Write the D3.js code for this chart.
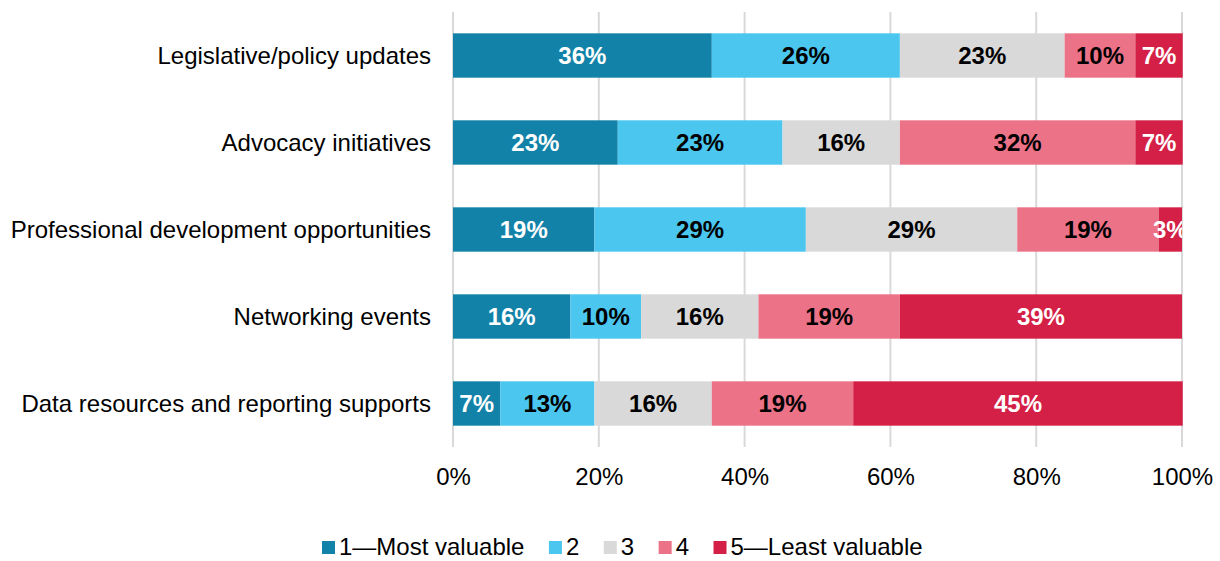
<!DOCTYPE html>
<html>
<head>
<meta charset="utf-8">
<script src="https://cdn.jsdelivr.net/npm/d3@7"></script>
<style>
  body { margin: 0; background: #fff; }
  text { font-family: "Liberation Sans", Arial, sans-serif; }
</style>
</head>
<body>
<script>
const categories = [
  "Legislative/policy updates",
  "Advocacy initiatives",
  "Professional development opportunities",
  "Networking events",
  "Data resources and reporting supports"
];
const seriesNames = ["1\u2014Most valuable", "2", "3", "4", "5\u2014Least valuable"];
const colors = ["#1282a8", "#4ac6ef", "#d9d9d9", "#ec7288", "#d42046"];
const labelColors = ["#fff", "#000", "#000", "#000", "#fff"];
// share of responses (%) per category, one array per rating
const rating1 = [35.5, 22.6, 19.4, 16.1, 6.5];
const rating2 = [25.8, 22.6, 29.0, 9.7, 12.9];
const rating3 = [22.6, 16.1, 29.0, 16.1, 16.1];
const rating4 = [9.7, 32.3, 19.4, 19.4, 19.4];
const rating5 = [6.5, 6.5, 3.2, 38.7, 45.2];
const tickValues = [0, 20, 40, 60, 80, 100];

const series = [rating1, rating2, rating3, rating4, rating5];
const rows = categories.map((c, i) => {
  const r = {cat: c};
  series.forEach((s, k) => r["k" + k] = s[i]);
  return r;
});
const keys = series.map((s, k) => "k" + k);
const stacked = d3.stack().keys(keys)(rows);

const W = 1220, H = 561;
const margin = {top: 12, bottom: 114, left: 453, right: 38};
const width = W - margin.left - margin.right;
const height = H - margin.top - margin.bottom;
const fs = 24;

const svg = d3.select("body").append("svg")
  .attr("width", W).attr("height", H);

const g = svg.append("g")
  .attr("transform", `translate(${margin.left},${margin.top})`);

const x = d3.scaleLinear().domain([0, 100]).range([0, width]);
const y = d3.scaleBand().domain(categories).range([0, height]).paddingInner(0.49).paddingOuter(0.245);

// gridlines
g.selectAll("line.grid").data(tickValues).join("line")
  .attr("class", "grid")
  .attr("x1", d => x(d)).attr("x2", d => x(d))
  .attr("y1", 0).attr("y2", height)
  .attr("stroke", "#d9d9d9").attr("stroke-width", 2);

g.append("clipPath").attr("id", "plotclip")
  .append("rect").attr("x", 0).attr("y", 0).attr("width", width).attr("height", height);

const layer = g.selectAll("g.layer").data(stacked).join("g")
  .attr("class", "layer")
  .attr("fill", (d, i) => colors[i]);

layer.selectAll("rect").data(d => d).join("rect")
  .attr("x", d => x(d[0]))
  .attr("y", d => y(d.data.cat))
  .attr("width", d => x(d[1]) - x(d[0]))
  .attr("height", y.bandwidth());

const labels = g.append("g").attr("clip-path", "url(#plotclip)");
stacked.forEach((s, i) => {
  labels.selectAll("text.l" + i).data(s).join("text")
    .attr("class", "l" + i)
    .attr("x", d => (x(d[0]) + x(d[1])) / 2)
    .attr("y", d => y(d.data.cat) + y.bandwidth() / 2)
    .attr("dy", "0.36em")
    .attr("text-anchor", "middle")
    .attr("font-size", fs)
    .attr("font-weight", "bold")
    .attr("fill", labelColors[i])
    .text(d => Math.round(d[1] - d[0]) + "%");
});

// category labels
g.selectAll("text.cat").data(categories).join("text")
  .attr("class", "cat")
  .attr("x", -22)
  .attr("y", d => y(d) + y.bandwidth() / 2)
  .attr("dy", "0.36em")
  .attr("text-anchor", "end")
  .attr("font-size", fs)
  .attr("fill", "#000")
  .text(d => d);

// x axis
const xAxis = g.append("g")
  .attr("transform", `translate(0,${height})`)
  .call(d3.axisBottom(x).tickValues(tickValues).tickFormat(d => d + "%").tickSize(0).tickPadding(21));
xAxis.select(".domain").remove();
xAxis.selectAll("text").attr("font-size", fs).attr("fill", "#000")
  .style("font-family", '"Liberation Sans", Arial, sans-serif');

// legend
const legend = svg.append("g");
let lx = 0;
seriesNames.forEach((n, i) => {
  const it = legend.append("g");
  it.append("rect").attr("width", 13).attr("height", 13).attr("y", -14).attr("fill", colors[i]);
  const t = it.append("text").attr("x", 17).attr("font-size", fs).attr("fill", "#000").text(n);
  const w = 17 + t.node().getComputedTextLength();
  it.attr("transform", `translate(${lx},0)`);
  lx += w + 24.5;
});
legend.attr("transform", `translate(322,555)`);
</script>
</body>
</html>
